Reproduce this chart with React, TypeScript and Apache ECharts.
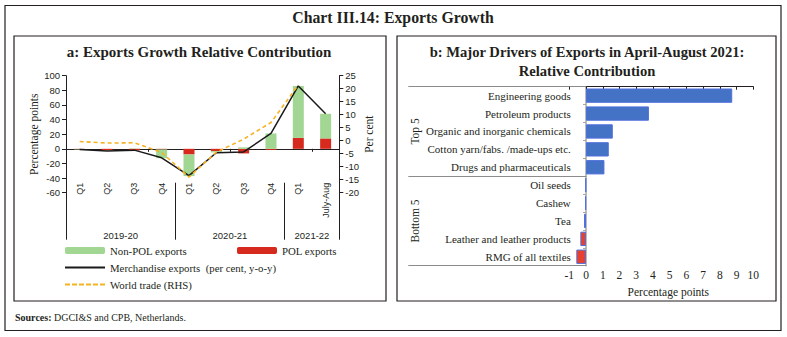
import React, { useEffect, useRef } from "react";
import * as echarts from "echarts";

// ---------- Panel a data ----------
const quarters = ["Q1", "Q2", "Q3", "Q4", "Q1", "Q2", "Q3", "Q4", "Q1", "July-Aug"];
const fiscalYears = ["2019-20", "2020-21", "2021-22"];
const fiscalYearStarts = [0, 4, 8, 10]; // category index where each fiscal year begins (last = end)
const polExports = [-0.3, -1.8, -2.2, -0.8, -7.7, -3.2, -6.3, -1.5, 15, 14.2];
const nonPolExports = [-0.6, -1.2, 0.4, -12, -29.6, -1.7, 2, 21, 71, 33.7];
const merchandiseExports = [-0.9, -3.1, -1.8, -12.3, -36.6, -5.4, -4.3, 21, 86, 48];
const worldTrade = [-0.3, -0.9, -0.8, -4.5, -14, -4.4, 0.6, 7, 21.4, null];
const leftTicks = { min: -60, max: 100, interval: 20 };
const rightTicks = { min: -20, max: 25, interval: 5 };

// ---------- Panel b data ----------
const drivers = [
  "Engineering goods",
  "Petroleum products",
  "Organic and inorganic chemicals",
  "Cotton yarn/fabs. /made-ups etc.",
  "Drugs and pharmaceuticals",
  "Oil seeds",
  "Cashew",
  "Tea",
  "Leather and leather products",
  "RMG of all textiles",
];
const contribution = [8.74, 3.76, 1.6, 1.36, 1.1, -0.03, -0.05, -0.12, -0.34, -0.58];
const driverGroups = ["Top 5", "Bottom 5"];
const bTicks = { min: -1, max: 10, interval: 1 };

const SERIF = "Liberation Serif";
const SANS = "Liberation Sans";
const INK = "#231f20";

const NAME_NONPOL = "Non-POL exports";
const NAME_POL = "POL exports";
const NAME_MERCH = "Merchandise exports  (per cent, y-o-y)";
const NAME_WORLD = "World trade (RHS)";

const SOLID_LINE_ICON = "path://M0,0H40V2H0Z";
const DASHED_LINE_ICON =
  "path://M0,0H5V2H0Z M7,0H12V2H7Z M14,0H19V2H14Z M21,0H26V2H21Z M28,0H33V2H28Z M35,0H40V2H35Z";

export default function App() {
  const ref = useRef<HTMLDivElement>(null);

  useEffect(() => {
    if (!ref.current) return;
    const chart = echarts.init(ref.current, null, { renderer: "svg" });

    const groupMids = fiscalYears.map(
      (_, i) => (fiscalYearStarts[i] + fiscalYearStarts[i + 1]) / 2
    );

    const legendBase = {
      itemWidth: 40,
      itemHeight: 7,
      itemGap: 5,
      padding: 0,
      textStyle: { fontFamily: SERIF, fontSize: 10.8, color: INK },
      selectedMode: false,
    };

    const option: any = {
      animation: false,
      backgroundColor: "#ffffff",
      textStyle: { fontFamily: SERIF },
      graphic: [
        { type: "rect", shape: { x: 5, y: 5.5, width: 776, height: 325 }, style: { fill: "none", stroke: INK, lineWidth: 1.2 } },
        { type: "rect", shape: { x: 14, y: 36, width: 372, height: 265 }, style: { fill: "none", stroke: INK, lineWidth: 1.2 } },
        { type: "rect", shape: { x: 397, y: 36, width: 379, height: 265 }, style: { fill: "none", stroke: INK, lineWidth: 1.2 } },
        {
          type: "text", x: 393, y: 17,
          style: { text: "Chart III.14: Exports Growth", font: `bold 15.8px "${SERIF}"`, fill: INK, textAlign: "center", textVerticalAlign: "middle" },
        },
        {
          type: "text", x: 199, y: 52,
          style: { text: "a: Exports Growth Relative Contribution", font: `bold 15px "${SERIF}"`, fill: INK, textAlign: "center", textVerticalAlign: "middle" },
        },
        {
          type: "text", x: 587, y: 61.5,
          style: {
            text: "b: Major Drivers of Exports in April-August 2021:\nRelative Contribution",
            font: `bold 14.6px "${SERIF}"`, lineHeight: 19, fill: INK, textAlign: "center", textVerticalAlign: "middle",
          },
        },
        {
          type: "text", x: 15, y: 317,
          style: {
            text: "{b|Sources:} DGCI&S and CPB, Netherlands.",
            fill: INK, textVerticalAlign: "middle",
            rich: {
              b: { fontFamily: SERIF, fontSize: 10, fontWeight: "bold", fill: INK },
            },
            font: `10px "${SERIF}"`,
          },
        },
      ],
      legend: [
        { ...legendBase, left: 65, top: 245, data: [NAME_NONPOL] },
        { ...legendBase, left: 237, top: 245, data: [NAME_POL] },
        { ...legendBase, left: 65, top: 262, itemHeight: 2, data: [{ name: NAME_MERCH, icon: SOLID_LINE_ICON }] },
        { ...legendBase, left: 65, top: 279, itemHeight: 2, data: [{ name: NAME_WORLD, icon: DASHED_LINE_ICON }] },
      ],
      grid: [
        { left: 66, top: 75.7, width: 273.3, height: 117, containLabel: false },
        { left: 569.3, top: 86.7, width: 184, height: 179, containLabel: false },
      ],
      xAxis: [
        {
          type: "category",
          gridIndex: 0,
          data: quarters,
          boundaryGap: true,
          axisLine: { show: true, onZero: true, lineStyle: { color: INK, width: 1 } },
          axisTick: { show: true, length: 3, lineStyle: { color: INK } },
          axisLabel: { show: false },
          splitLine: { show: false },
        },
        {
          type: "value",
          gridIndex: 0,
          position: "bottom",
          offset: -10,
          min: 0,
          max: quarters.length,
          axisLine: { show: false, onZero: false },
          axisTick: { show: true, length: 57, customValues: fiscalYearStarts, lineStyle: { color: INK, width: 1 } },
          axisLabel: {
            show: true,
            customValues: groupMids,
            margin: 48,
            fontFamily: SANS,
            fontSize: 9.5,
            color: INK,
            formatter: (v: number) => {
              const i = groupMids.findIndex((m) => Math.abs(m - v) < 1e-6);
              return i >= 0 ? fiscalYears[i] : "";
            },
          },
          splitLine: { show: false },
        },
        {
          type: "value",
          gridIndex: 1,
          position: "top",
          min: bTicks.min,
          max: bTicks.max,
          interval: bTicks.interval,
          axisLine: { show: true, onZero: false, lineStyle: { color: INK, width: 1 } },
          axisTick: { show: true, inside: true, length: 3, lineStyle: { color: INK } },
          axisLabel: { show: false },
          splitLine: { show: false },
        },
        {
          type: "value",
          gridIndex: 1,
          position: "bottom",
          min: bTicks.min,
          max: bTicks.max,
          interval: bTicks.interval,
          axisLine: { show: false, onZero: false },
          axisTick: { show: false },
          axisLabel: { show: true, margin: 3, fontFamily: SERIF, fontSize: 11.5, color: INK },
          splitLine: { show: false },
          name: "Percentage points",
          nameLocation: "middle",
          nameGap: 14,
          nameTextStyle: { fontFamily: SERIF, fontSize: 11.5, color: INK, padding: [0, 0, 0, 14] },
        },
        {
          // quarter labels, hanging just above the bottom of plot area
          type: "category",
          gridIndex: 0,
          data: quarters,
          position: "bottom",
          offset: -10,
          boundaryGap: true,
          axisLine: { show: false, onZero: false },
          axisTick: { show: false },
          axisLabel: { rotate: 90, margin: 0, fontFamily: SANS, fontSize: 9, color: INK, interval: 0 },
          splitLine: { show: false },
        },
      ],
      yAxis: [
        {
          type: "value",
          gridIndex: 0,
          position: "left",
          min: leftTicks.min,
          max: leftTicks.max,
          interval: leftTicks.interval,
          axisLine: { show: true, lineStyle: { color: INK, width: 1 } },
          axisTick: { show: true, length: 4, lineStyle: { color: INK } },
          axisLabel: { margin: 6, fontFamily: SANS, fontSize: 9.5, color: INK },
          splitLine: { show: false },
          name: "Percentage points",
          nameLocation: "middle",
          nameGap: 26,
          nameRotate: 90,
          nameTextStyle: { fontFamily: SERIF, fontSize: 11.5, color: INK },
        },
        {
          type: "value",
          gridIndex: 0,
          position: "right",
          min: rightTicks.min,
          max: rightTicks.max,
          interval: rightTicks.interval,
          axisLine: { show: true, lineStyle: { color: INK, width: 1 } },
          axisTick: { show: true, length: 4, lineStyle: { color: INK } },
          axisLabel: { margin: 6, fontFamily: SANS, fontSize: 9.5, color: INK },
          splitLine: { show: false },
          name: "Per cent",
          nameLocation: "middle",
          nameGap: 21,
          nameRotate: 90,
          nameTextStyle: { fontFamily: SERIF, fontSize: 11.5, color: INK },
        },
        {
          type: "category",
          gridIndex: 1,
          data: drivers,
          inverse: true,
          position: "left",
          axisLine: { show: true, onZero: true, lineStyle: { color: "#a6a6a6", width: 1.5 } },
          axisTick: { show: true, length: 3, lineStyle: { color: "#a6a6a6" } },
          axisLabel: { margin: -1.5, fontFamily: SERIF, fontSize: 11, color: INK, interval: 0 },
          splitLine: { show: false },
        },
        {
          type: "category",
          gridIndex: 1,
          data: driverGroups,
          inverse: true,
          position: "left",
          offset: -17,
          axisLine: { show: false, onZero: false },
          axisTick: { show: true, length: 178, lineStyle: { color: "#8c8c8c", width: 1 } },
          axisLabel: { rotate: 90, margin: 165, fontFamily: SERIF, fontSize: 11.5, color: INK, interval: 0 },
          splitLine: { show: false },
        },
      ],
      series: [
        {
          name: NAME_POL,
          type: "bar",
          xAxisIndex: 0,
          yAxisIndex: 0,
          stack: "exports",
          barWidth: 11,
          data: polExports,
          itemStyle: { color: "#d62a1e" },
        },
        {
          name: NAME_NONPOL,
          type: "bar",
          xAxisIndex: 0,
          yAxisIndex: 0,
          stack: "exports",
          barWidth: 11,
          data: nonPolExports,
          itemStyle: { color: "#a2d693" },
        },
        {
          name: NAME_MERCH,
          type: "line",
          xAxisIndex: 0,
          yAxisIndex: 0,
          symbol: "none",
          data: merchandiseExports,
          lineStyle: { color: "#1a1a1a", width: 1.5 },
          itemStyle: { color: "#1a1a1a" },
          z: 4,
        },
        {
          name: NAME_WORLD,
          type: "line",
          xAxisIndex: 0,
          yAxisIndex: 1,
          symbol: "none",
          data: worldTrade,
          lineStyle: { color: "#f5b324", width: 1.6, type: [4, 3] },
          itemStyle: { color: "#f5b324" },
          z: 5,
        },
        {
          name: "Relative contribution",
          type: "bar",
          xAxisIndex: 2,
          yAxisIndex: 2,
          barCategoryGap: "20%",
          data: contribution,
          itemStyle: {
            color: (p: any) => (p.value >= 0 ? "#4472c4" : "#e8402c"),
            borderColor: (p: any) => (p.value >= 0 ? "#86a3dc" : "#f08070"),
            borderWidth: 1,
          },
        },
      ],
    };

    chart.setOption(option);
    return () => chart.dispose();
  }, []);

  return (
    <div
      ref={ref}
      style={{ position: "fixed", left: 0, top: 0, width: 787, height: 337, background: "#fff" }}
    />
  );
}
